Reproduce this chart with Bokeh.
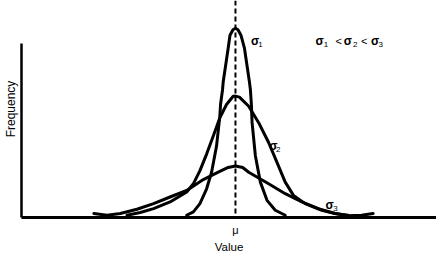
from bokeh.plotting import figure
from bokeh.models import Range1d, FixedTicker, Span
from bokeh.core.properties import value
from bokeh.embed import file_html
from bokeh.resources import INLINE

# ---------------- data ----------------
MU = 0
# curve 1 (smallest sigma)
s1_x = [-49, -42.3, -35.7, -29, -24, -19, -15.7, -15, -13, -12.3, -7.3, -5.5, -2.5, 0,
        2.5, 5.5, 9, 14, 15, 16, 16.7, 20, 25, 31.7, 40, 50]
s1_y = [2.3, 5.7, 14, 29, 45.7, 72.3, 102.3, 114, 129, 137, 171, 184, 189.5, 191,
        189.5, 184, 171, 137, 129, 114, 95.7, 62.3, 35.7, 17.3, 7.3, 2.3]
# curve 2
s2_x = [-109, -95.7, -82.3, -65.7, -49, -42.3, -35.7, -29, -22.3, -15.7, -9, -2.3, 0,
        4, 13.3, 23.3, 33.3, 41.7, 50, 58.3, 70, 86.7, 100, 113.3]
s2_y = [2.3, 5, 9, 15.7, 25.7, 34, 47.3, 64, 82.3, 100.7, 114, 122.3, 122.5,
        121.5, 112.3, 95.7, 75.7, 55.7, 35.7, 22.3, 14, 7.3, 4, 2.3]
# curve 3 (largest sigma)
s3_x = [-142.3, -129, -115.7, -99, -82.3, -65.7, -49, -32.3, -17.3, -7.3, 0,
        7.3, 13.3, 33.3, 50, 66.7, 83.3, 100, 113.3, 126.7, 138.3]
s3_y = [4, 2.3, 4, 8.3, 14, 20.7, 27.3, 38.3, 45.7, 50.5, 52,
        50.5, 45.7, 34, 24, 15.7, 9, 4, 1.7, 2.3, 4]

X_TICK_LABEL = "μ"
X_LABEL = "Value"
Y_LABEL = "Frequency"
Y_AXIS_TOP = 176

# ---------------- figure ----------------
FONT = "Liberation Sans"
p = figure(width=436, height=255, output_backend="svg", toolbar_location=None,
           x_range=Range1d(-215, 202), y_range=Range1d(0, 219),
           min_border_left=19, min_border_right=0, min_border_top=0,
           min_border_bottom=36)
p.outline_line_color = None
p.grid.visible = False
p.background_fill_color = "white"
p.border_fill_color = "white"

for xs, ys in ((s1_x, s1_y), (s2_x, s2_y), (s3_x, s3_y)):
    p.line(xs, ys, line_color="black", line_width=3, line_join="round", line_cap="round")

p.add_layout(Span(location=MU, dimension="height", line_color="black",
                  line_width=2, line_dash="5 3"))

# x axis
xa = p.xaxis[0]
xa.ticker = FixedTicker(ticks=[MU])
xa.major_label_overrides = {MU: X_TICK_LABEL}
xa.major_tick_out = 0
xa.major_tick_in = 0
xa.minor_tick_out = 0
xa.minor_tick_in = 0
xa.axis_line_width = 3
xa.axis_line_color = "black"
xa.major_label_text_font = FONT
xa.major_label_text_font_size = "11px"
xa.major_label_text_color = "black"
xa.major_label_standoff = 6
xa.axis_label = X_LABEL
xa.axis_label_text_font = FONT
xa.axis_label_text_font_size = "11.5px"
xa.axis_label_text_font_style = "normal"
xa.axis_label_text_color = "black"
xa.axis_label_standoff = 2

# y axis
ya = p.yaxis[0]
ya.ticker = FixedTicker(ticks=[])
ya.bounds = (0, Y_AXIS_TOP)
ya.major_tick_out = 0
ya.major_tick_in = 0
ya.minor_tick_out = 0
ya.minor_tick_in = 0
ya.major_label_standoff = 0
ya.major_label_text_font_size = "0px"
ya.axis_line_width = 2.5
ya.axis_line_color = "black"
ya.axis_label = Y_LABEL
ya.axis_label_text_font = FONT
ya.axis_label_text_font_size = "12px"
ya.axis_label_text_font_style = "normal"
ya.axis_label_text_color = "black"
ya.axis_label_standoff = 4

# sigma annotations
sig_txt = ["σ", "σ", "σ", "σ", "σ", "σ"]
sig_x = [15.5, 34, 90.5, 80.5, 108.8, 136.2]
sig_y = [178.5, 72.5, 12.5, 178.5, 178.5, 178.5]
sub_txt = ["1", "2", "3", "1", "2", "3"]
sub_x = [22.8, 40.8, 98.3, 88.8, 118.2, 143.8]
sub_y = [175, 69, 9, 175, 175, 175]
lt_txt = ["<", "<"]
lt_x = [100.4, 126.1]
lt_y = [178.5, 178.5]

p.text(x=sig_x, y=sig_y, text=sig_txt, text_font=value(FONT),
       text_font_size=value("12px"), text_font_style="bold",
       text_color="black", text_baseline="alphabetic", text_align="left")
p.text(x=sub_x, y=sub_y, text=sub_txt, text_font=value(FONT),
       text_font_size=value("8px"), text_color="black",
       text_baseline="alphabetic", text_align="left")
p.text(x=lt_x, y=lt_y, text=lt_txt, text_font=value(FONT),
       text_font_size=value("11px"), text_color="black",
       text_baseline="alphabetic", text_align="left")

open("out.html", "w").write(file_html(p, INLINE))
